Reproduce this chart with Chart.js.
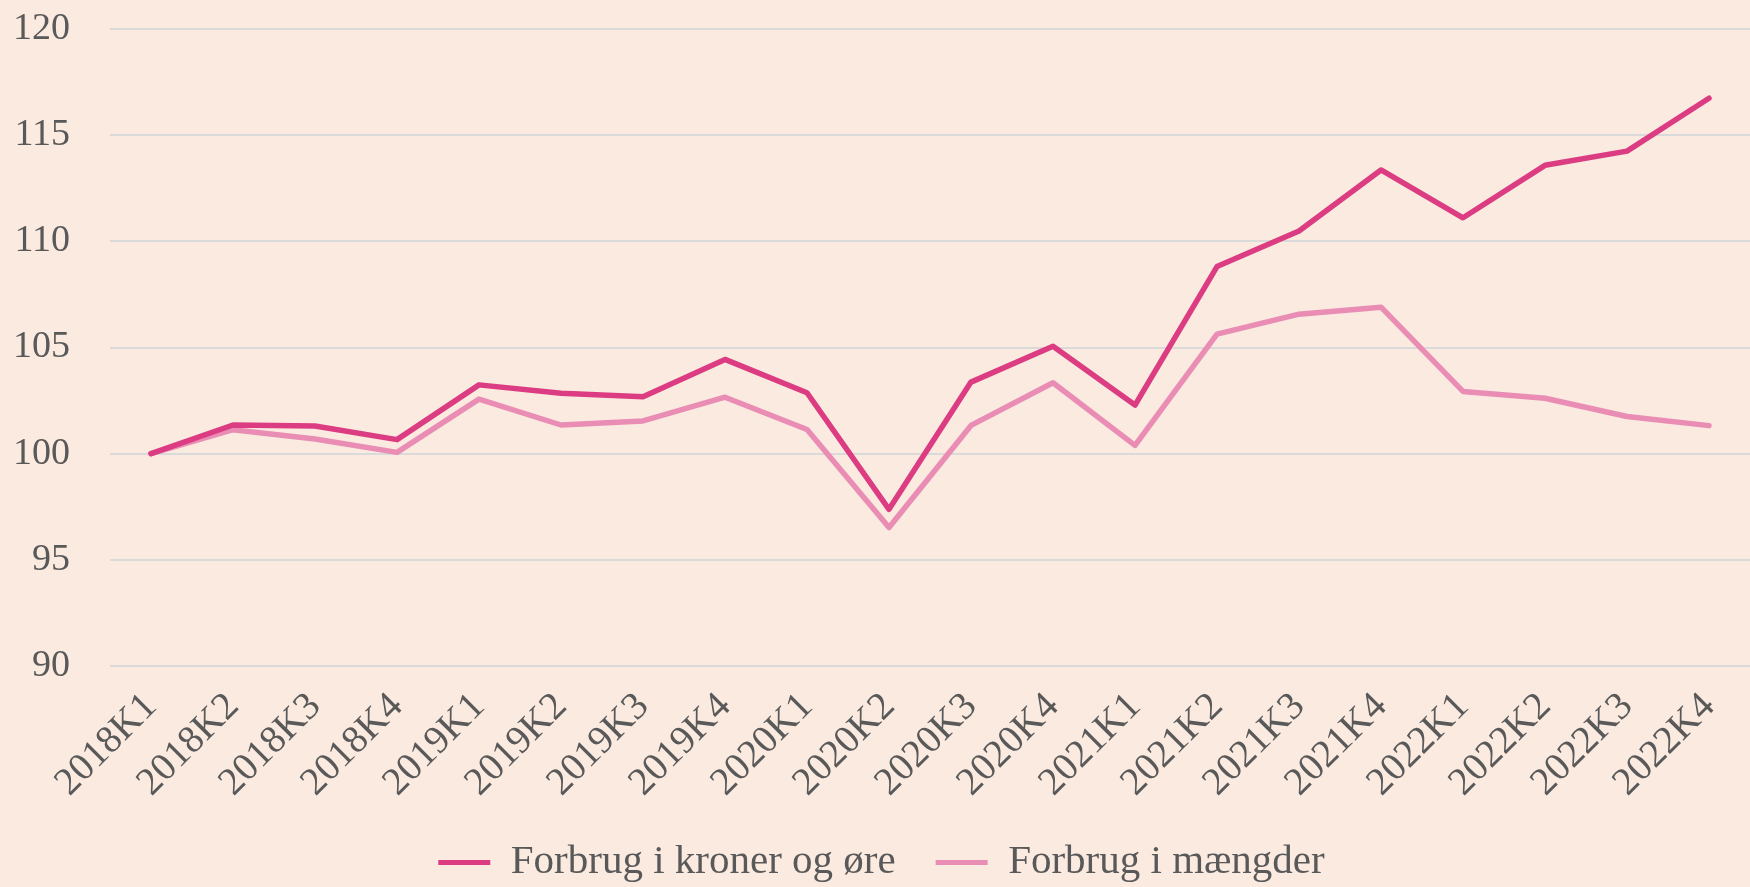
<!DOCTYPE html>
<html>
<head>
<meta charset="utf-8">
<script src="https://cdn.jsdelivr.net/npm/chart.js@4/dist/chart.umd.min.js"></script>
<style>
    html, body { margin: 0; padding: 0; background: #fbeae0; }
    #wrap { width: 1750px; height: 887px; }
</style>
</head>
<body>
<div id="wrap"><canvas id="forbrugChart" width="1750" height="887"></canvas></div>
<script>
const kvartaler = [
    "2018K1", "2018K2", "2018K3", "2018K4",
    "2019K1", "2019K2", "2019K3", "2019K4",
    "2020K1", "2020K2", "2020K3", "2020K4",
    "2021K1", "2021K2", "2021K3", "2021K4",
    "2022K1", "2022K2", "2022K3", "2022K4"
];

const kronerOgOre = [
    100.0, 101.35, 101.3, 100.66,
    103.24, 102.85, 102.68, 104.44,
    102.87, 97.38, 103.37, 105.06,
    102.29, 108.81, 110.49, 113.36,
    111.11, 113.58, 114.25, 116.74
];

const maengder = [
    100.0, 101.13, 100.69, 100.06,
    102.57, 101.35, 101.54, 102.66,
    101.14, 96.52, 101.33, 103.34,
    100.39, 105.63, 106.57, 106.9,
    102.93, 102.61, 101.75, 101.32
];

const yTicks = [90, 95, 100, 105, 110, 115, 120];

const serif = "'Liberation Serif', 'DejaVu Serif', serif";
const textColor = "#595959";

new Chart(document.getElementById("forbrugChart"), {
    type: "line",
    data: {
        labels: kvartaler,
        datasets: [
            {
                label: "Forbrug i kroner og øre",
                data: kronerOgOre,
                borderColor: "#dc3c81",
                backgroundColor: "#dc3c81",
                borderWidth: 5.5,
                borderJoinStyle: "round",
                borderCapStyle: "round",
                pointRadius: 0,
                tension: 0
            },
            {
                label: "Forbrug i mængder",
                data: maengder,
                borderColor: "#ea8db5",
                backgroundColor: "#ea8db5",
                borderWidth: 5.5,
                borderJoinStyle: "round",
                borderCapStyle: "round",
                pointRadius: 0,
                tension: 0
            }
        ]
    },
    options: {
        responsive: false,
        animation: false,
        layout: { padding: { top: 0, left: 13, right: 0, bottom: -6 } },
        plugins: {
            tooltip: { enabled: false },
            legend: {
                position: "bottom",
                labels: {
                    color: textColor,
                    font: { family: serif, size: 41 },
                    boxWidth: 52,
                    boxHeight: 5,
                    padding: 40,
                    generateLabels: chart => chart.data.datasets.map((ds, i) => ({
                        text: ds.label,
                        fillStyle: ds.borderColor,
                        strokeStyle: ds.borderColor,
                        lineWidth: 0,
                        fontColor: textColor,
                        datasetIndex: i
                    }))
                }
            }
        },
        scales: {
            x: {
                offset: true,
                grid: { display: false },
                border: { display: false },
                ticks: {
                    color: textColor,
                    font: { family: serif, size: 39 },
                    minRotation: 45,
                    maxRotation: 45,
                    autoSkip: false,
                    padding: 10
                },
                afterFit: scale => {
                    scale.height = 136;
                    scale.paddingLeft = 0;
                    scale.paddingRight = 0;
                }
            },
            y: {
                min: 90,
                max: 120,
                afterBuildTicks: scale => { scale.ticks = yTicks.map(v => ({ value: v })); },
                grid: { color: "#dadada", lineWidth: 2, drawTicks: false },
                border: { display: false },
                ticks: {
                    color: textColor,
                    font: { family: serif, size: 38 },
                    padding: 40
                },
                afterFit: scale => {
                    scale.width = 97;
                    scale.paddingTop = 29;
                    scale.paddingBottom = 0;
                }
            }
        }
    }
});
</script>
</body>
</html>
